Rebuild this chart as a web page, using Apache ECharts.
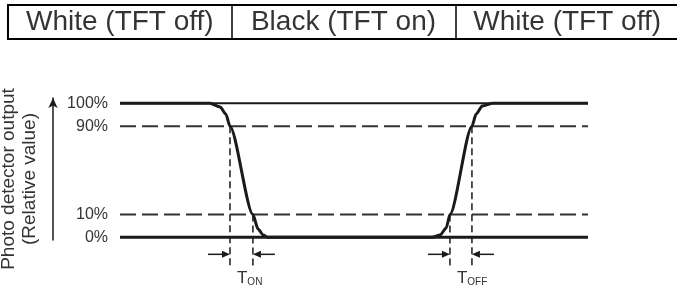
<!DOCTYPE html>
<html>
<head>
<meta charset="utf-8">
<script src="https://cdn.jsdelivr.net/npm/echarts@6/dist/echarts.min.js"></script>
<style>
html,body{margin:0;padding:0;background:#fff}
#main{width:677px;height:291px}
</style>
</head>
<body>
<div id="main"></div>
<script>
// header row above the diagram
var headerCells = ['White (TFT off)', 'Black (TFT on)', 'White (TFT off)'];

// detector levels (schematic positions, as drawn) and their labels
var levelValues = [0, 17, 83, 100];
var levelLabels = ['0%', '10%', '90%', '100%'];

// response waveform: time in % of the drawn span, level as above
var waveTime  = [0, 19.2, 21.4, 22.6, 23.5, 28.4, 29.5, 30.6, 31.6, 66.7, 68.4, 69.7, 70.5, 75.2, 76.1, 77.4, 79.7, 100];
var waveLevel = [100, 100, 97.3, 92.1, 83, 17, 6.2, 1.7, 0, 0, 1.7, 7, 17, 83, 92, 98, 100, 100];

// response time markers
var timingNames      = ['ON', 'OFF'];
var timingStart      = [23.5, 70.5];
var timingEnd        = [28.4, 75.2];
var timingStartLevel = [83, 17];
var timingEndLevel   = [17, 83];

var ink = '#1a1a1a';

function arrow(x, y, dir) {
    // dir -1: arrow comes from the left, 1: from the right
    var len = 22, head = 8, half = 3.5;
    return {
        type: 'group',
        children: [
            {type: 'line', shape: {x1: x + dir * len, y1: y, x2: x + dir * head, y2: y}, style: {stroke: ink, lineWidth: 1.5}},
            {type: 'polygon', shape: {points: [[x, y], [x + dir * head, y - half], [x + dir * head, y + half]]}, style: {fill: ink}}
        ]
    };
}

function renderTiming(params, api) {
    var name = timingNames[params.dataIndex];
    var a = api.coord([api.value(0), api.value(2)]);
    var b = api.coord([api.value(1), api.value(3)]);
    var base = api.coord([0, 0])[1];
    var foot = base + 30;
    var arrowY = base + 17;
    var dash = {stroke: ink, lineWidth: 1.5, lineDash: [7, 4]};
    return {
        type: 'group',
        children: [
            {type: 'line', shape: {x1: a[0], y1: a[1], x2: a[0], y2: foot}, style: dash},
            {type: 'line', shape: {x1: b[0], y1: b[1], x2: b[0], y2: foot}, style: dash},
            arrow(a[0], arrowY, -1),
            arrow(b[0], arrowY, 1),
            {
                type: 'text',
                x: a[0] + 7,
                y: base + 41,
                style: {
                    text: '{t|T}{s|' + name + '}',
                    verticalAlign: 'middle',
                    fill: '#333',
                    rich: {
                        t: {fontSize: 17, lineHeight: 17, verticalAlign: 'bottom', fontFamily: 'Liberation Sans', fill: '#333'},
                        s: {fontSize: 10, lineHeight: 10, verticalAlign: 'bottom', fontFamily: 'Liberation Sans', fill: '#333'}
                    }
                }
            }
        ]
    };
}

// horizontal reference lines at each level
var levelStyles = [
    {color: ink, width: 3, type: 'solid'},
    {color: '#333', width: 2, type: [16, 6]},
    {color: '#333', width: 2, type: [16, 6]},
    {color: ink, width: 2, type: 'solid'}
];
var levelSeries = levelValues.map(function (v, i) {
    return {
        type: 'line',
        data: [[0, v], [100, v]],
        symbol: 'none',
        silent: true,
        lineStyle: levelStyles[i]
    };
});

var myChart = echarts.init(document.getElementById('main'));
myChart.setOption({
    animation: false,
    grid: [
        {left: 120, top: 98, width: 468, height: 142, outerBoundsMode: 'none'},
        {left: 8, top: 5, width: 671, height: 34, show: true, borderColor: '#000', borderWidth: 2, outerBoundsMode: 'none'}
    ],
    xAxis: [
        {type: 'value', min: 0, max: 100, show: false},
        {
            type: 'category',
            gridIndex: 1,
            data: headerCells,
            axisLine: {show: false},
            axisTick: {show: false},
            axisLabel: {show: false},
            splitLine: {show: true, interval: 0, lineStyle: {color: '#000', width: 1.5}}
        }
    ],
    yAxis: [
        {
            type: 'value',
            min: -2,
            max: 104,
            axisLine: {show: false},
            axisTick: {show: false},
            splitLine: {show: false},
            axisLabel: {
                customValues: levelValues,
                formatter: function (v) { return levelLabels[levelValues.indexOf(v)]; },
                margin: 12,
                fontSize: 16,
                color: '#333',
                fontFamily: 'Liberation Sans'
            }
        },
        {
            type: 'value',
            min: -2,
            max: 104,
            position: 'left',
            offset: 67,
            axisLine: {show: true, symbol: ['none', 'arrow'], symbolSize: [7, 10], lineStyle: {color: ink, width: 1.5}},
            axisTick: {show: false},
            axisLabel: {show: false},
            splitLine: {show: false},
            name: 'Photo detector output\n(Relative value)',
            nameLocation: 'middle',
            nameRotate: 90,
            nameGap: 13,
            nameTextStyle: {fontSize: 19, lineHeight: 21, color: '#333', fontFamily: 'Liberation Sans', padding: [0, 20, 0, 0]}
        },
        {type: 'value', gridIndex: 1, min: 0, max: 1, show: false}
    ],
    series: levelSeries.concat([
        {
            type: 'line',
            data: waveTime.map(function (t, i) { return [t, waveLevel[i]]; }),
            symbol: 'none',
            silent: true,
            smooth: 0.25,
            smoothMonotone: 'x',
            lineStyle: {color: ink, width: 3},
            z: 3
        },
        {
            type: 'custom',
            data: timingNames.map(function (n, i) {
                return [timingStart[i], timingEnd[i], timingStartLevel[i], timingEndLevel[i]];
            }),
            encode: {x: [0, 1], y: [2, 3]},
            renderItem: renderTiming,
            silent: true,
            z: 4
        },
        {
            type: 'scatter',
            xAxisIndex: 1,
            yAxisIndex: 2,
            data: headerCells.map(function (c, i) { return [i, 0.5]; }),
            symbolSize: 1,
            itemStyle: {color: 'rgba(0,0,0,0)'},
            silent: true,
            label: {
                show: true,
                position: 'inside',
                formatter: function (p) { return headerCells[p.dataIndex]; },
                color: '#000',
                fontSize: 28,
                fontFamily: 'Liberation Sans'
            }
        }
    ])
});
</script>
</body>
</html>
